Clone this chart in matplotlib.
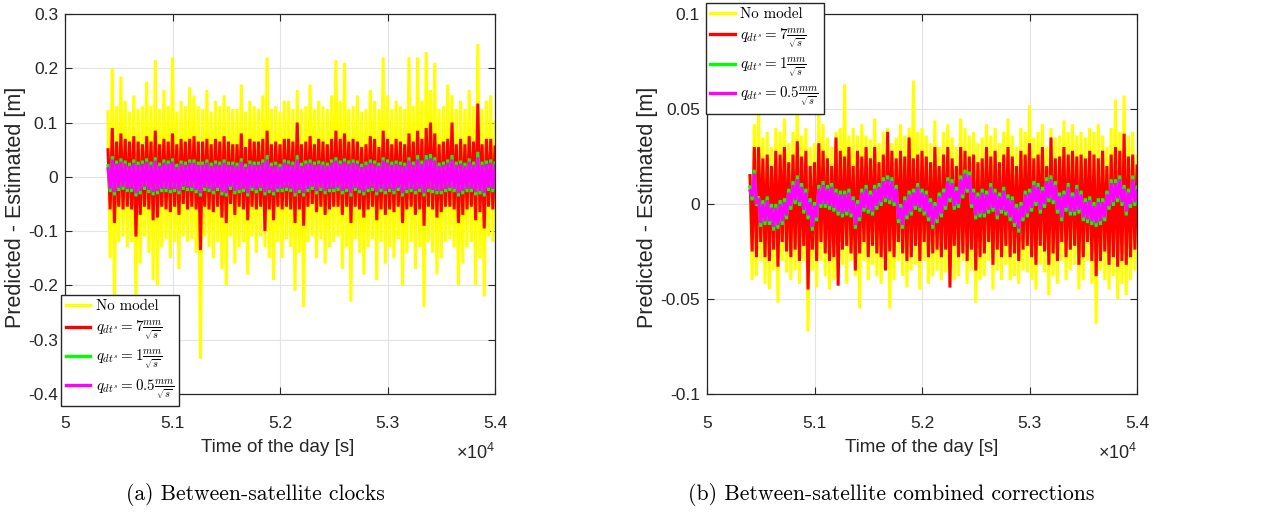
import numpy as np
import matplotlib
matplotlib.use("Agg")
import matplotlib.pyplot as plt
from matplotlib.lines import Line2D

# ---------------- data (values in mm) ----------------
x_ticks = [50000, 51000, 52000, 53000, 54000]
x_tick_labels = ["5", "5.1", "5.2", "5.3", "5.4"]
t_start, t_end = 50400, 54000

a_yticks = [-0.4, -0.3, -0.2, -0.1, 0.0, 0.1, 0.2, 0.3]
a_yticklabels = ["-0.4", "-0.3", "-0.2", "-0.1", "0", "0.1", "0.2", "0.3"]
b_yticks = [-0.1, -0.05, 0.0, 0.05, 0.1]
b_yticklabels = ["-0.1", "-0.05", "0", "0.05", "0.1"]

series_labels = ["No model",
                 r"$q_{dt^s}=7\frac{mm}{\sqrt{s}}$",
                 r"$q_{dt^s}=1\frac{mm}{\sqrt{s}}$",
                 r"$q_{dt^s}=0.5\frac{mm}{\sqrt{s}}$"]
series_colors = ["#ffff00", "#ff0000", "#00ff00", "#ff00ff"]

# panel (a): between-satellite clocks
a_nomodel = [
    120, -150, 200, -240, 130, -120, 185, -110, 140, -130,
    120, -120, 150, -230, 125, -160, 130, -110, 175, -140,
    130, -190, 215, -200, 125, -130, 160, -115, 130, -150,
    220, -120, 120, -170, 140, -110, 130, -120, 165, -115,
    150, -140, 130, -335, 125, -110, 160, -130, 120, -150,
    140, -120, 130, -170, 150, -200, 130, -110, 125, -160,
    125, -130, 170, -120, 120, -180, 140, -110, 130, -140,
    125, -110, 150, -130, 220, -150, 125, -190, 130, -120,
    120, -150, 140, -115, 140, -130, 125, -210, 160, -140,
    125, -240, 130, -120, 170, -110, 125, -150, 140, -115,
    130, -160, 125, -130, 150, -120, 215, -110, 140, -170,
    210, -130, 125, -230, 130, -115, 150, -140, 120, -180,
    125, -130, 160, -115, 140, -190, 125, -120, 220, -160,
    150, -130, 125, -150, 140, -115, 130, -200, 125, -140,
    220, -120, 130, -170, 220, -130, 140, -240, 230, -120,
    160, -140, 210, -180, 125, -150, 130, -120, 170, -115,
    150, -130, 125, -200, 140, -160, 125, -130, 160, -120,
    130, -200, 245, -150, 125, -220, 140, -110, 150, -120,
    100]
a_q7 = [
    50, -60, 90, -85, 65, -55, 80, -60, 70, -55,
    65, -60, 75, -110, 65, -70, 60, -55, 75, -60,
    65, -80, 85, -75, 60, -55, 70, -60, 65, -65,
    80, -55, 60, -70, 70, -50, 65, -60, 70, -55,
    75, -60, 65, -135, 65, -55, 70, -60, 60, -65,
    70, -55, 65, -75, 75, -85, 65, -50, 60, -70,
    60, -55, 80, -60, 55, -80, 70, -55, 65, -60,
    65, -55, 70, -100, 85, -60, 60, -80, 65, -55,
    60, -60, 70, -55, 70, -60, 65, -85, 100, -60,
    60, -90, 65, -55, 75, -50, 60, -65, 70, -55,
    65, -70, 60, -60, 70, -55, 85, -55, 70, -70,
    80, -55, 65, -85, 70, -55, 65, -60, 55, -75,
    60, -60, 75, -55, 70, -80, 55, -60, 85, -70,
    70, -60, 60, -65, 70, -55, 65, -85, 60, -60,
    80, -55, 65, -70, 85, -60, 70, -90, 90, -55,
    100, -60, 80, -75, 60, -65, 65, -55, 70, -55,
    100, -60, 60, -85, 70, -70, 60, -60, 75, -55,
    65, -80, 135, -65, 60, -95, 70, -55, 70, -60,
    55]
a_q1 = [
    21, -28, 38, -34, 30, -26, 34, -24, 30, -28,
    26, -28, 32, -36, 28, -32, 30, -24, 34, -30,
    28, -34, 36, -32, 26, -28, 32, -28, 30, -30,
    34, -28, 24, -32, 30, -24, 28, -26, 32, -26,
    32, -30, 28, -36, 28, -26, 32, -28, 26, -32,
    30, -26, 28, -34, 32, -36, 28, -24, 28, -32,
    26, -30, 34, -28, 24, -36, 30, -26, 28, -30,
    28, -26, 32, -34, 40, -30, 26, -34, 28, -28,
    24, -28, 32, -26, 30, -28, 28, -36, 40, -30,
    26, -36, 30, -28, 32, -24, 28, -32, 30, -26,
    28, -32, 26, -28, 32, -28, 36, -26, 30, -32,
    34, -28, 30, -36, 32, -26, 30, -30, 24, -34,
    28, -28, 32, -26, 30, -34, 26, -28, 36, -32,
    32, -28, 28, -32, 30, -26, 28, -36, 26, -30,
    36, -28, 28, -32, 40, -28, 30, -36, 40, -28,
    42, -30, 36, -32, 26, -32, 28, -28, 32, -26,
    40, -28, 28, -36, 30, -32, 26, -28, 34, -28,
    28, -34, 46, -32, 28, -36, 30, -26, 32, -28,
    26]
a_q05 = [
    15, -22, 32, -28, 24, -20, 28, -18, 24, -22,
    20, -22, 26, -30, 22, -26, 24, -18, 28, -24,
    22, -28, 30, -26, 20, -22, 26, -22, 24, -24,
    28, -22, 18, -26, 24, -18, 22, -20, 26, -20,
    26, -24, 22, -30, 22, -20, 26, -22, 20, -26,
    24, -20, 22, -28, 26, -30, 22, -18, 22, -26,
    20, -24, 28, -22, 18, -30, 24, -20, 22, -24,
    22, -20, 26, -28, 32, -24, 20, -28, 22, -22,
    18, -22, 26, -20, 24, -22, 22, -30, 32, -24,
    20, -30, 24, -22, 26, -18, 22, -26, 24, -20,
    22, -26, 20, -22, 26, -22, 30, -20, 24, -26,
    28, -22, 24, -30, 26, -20, 24, -24, 18, -28,
    22, -22, 26, -20, 24, -28, 20, -22, 30, -26,
    26, -22, 22, -26, 24, -20, 22, -30, 20, -24,
    30, -22, 22, -26, 32, -22, 24, -30, 32, -22,
    34, -24, 30, -26, 20, -26, 22, -22, 26, -20,
    32, -22, 22, -30, 24, -26, 20, -22, 28, -22,
    22, -28, 36, -26, 22, -30, 24, -20, 26, -22,
    20]

# panel (b): between-satellite combined corrections
b_nomodel = [
    15, -40, 42, -38, 50, -30, 35, -42, 38, -45,
    30, -35, 40, -52, 38, -30, 45, -36, 32, -40,
    38, -35, 55, -42, 36, -30, 40, -67, 30, -35,
    32, -44, 50, -30, 42, -38, 35, -45, 30, -40,
    38, -35, 40, -32, 63, -42, 36, -30, 40, -38,
    36, -55, 42, -30, 36, -40, 34, -32, 45, -38,
    32, -42, 38, -30, 40, -55, 32, -40, 35, -30,
    42, -38, 36, -44, 40, -35, 65, -32, 38, -45,
    40, -30, 36, -42, 32, -38, 44, -35, 30, -40,
    38, -36, 42, -32, 35, -40, 30, -38, 45, -30,
    40, -42, 36, -35, 38, -52, 32, -40, 35, -38,
    42, -30, 36, -45, 40, -35, 32, -40, 38, -32,
    45, -40, 36, -38, 30, -42, 40, -35, 38, -36,
    52, -40, 35, -45, 38, -32, 42, -36, 30, -48,
    40, -38, 35, -42, 36, -30, 44, -40, 38, -35,
    42, -32, 36, -45, 38, -40, 35, -30, 40, -42,
    38, -63, 42, -35, 36, -40, 30, -45, 40, -38,
    55, -50, 38, -42, 57, -48, 36, -40, 38, -35,
    25]
b_q7 = [
    15, -25, 30, -28, 30, -20, 24, -28, 26, -30,
    20, -24, 28, -33, 26, -20, 30, -25, 22, -28,
    26, -24, 33, -30, 25, -22, 28, -45, 20, -24,
    22, -30, 32, -20, 28, -26, 24, -30, 20, -28,
    35, -43, 28, -24, 25, -22, 30, -26, 20, -35,
    28, -26, 25, -20, 30, -28, 24, -22, 30, -26,
    22, -28, 26, -35, 38, -25, 28, -28, 24, -20,
    28, -26, 25, -30, 35, -28, 24, -22, 26, -30,
    28, -20, 25, -28, 22, -26, 30, -24, 20, -28,
    26, -24, 30, -44, 24, -22, 20, -28, 30, -26,
    28, -30, 25, -24, 26, -35, 22, -28, 24, -26,
    30, -20, 25, -32, 28, -24, 22, -28, 26, -22,
    30, -28, 25, -26, 20, -30, 28, -24, 26, -22,
    32, -28, 24, -32, 26, -22, 30, -25, 20, -32,
    35, -26, 24, -30, 25, -20, 30, -28, 26, -24,
    28, -22, 25, -32, 26, -28, 24, -20, 28, -30,
    26, -38, 24, -30, 28, -25, 20, -32, 26, -28,
    30, -33, 28, -30, 37, -32, 25, -28, 26, -24,
    20]
b_q1 = [
    9, 2, 18, -1, 4, -12, 2, -11, 4, -11,
    0, -14, 0, -13, 2, -11, 3, -8, 8, -3,
    12, 0, 15, -1, 11, -5, 8, -8, 3, -14,
    1, -9, 10, -2, 12, -2, 10, -3, 11, -4,
    8, -6, 7, -7, 7, -6, 8, -7, 4, -13,
    2, -9, 8, -4, 10, -5, 7, -6, 10, -3,
    11, -1, 14, 1, 15, 0, 14, -1, 10, -10,
    0, -13, 4, -8, 7, -6, 8, -3, 11, -4,
    8, -6, 7, -9, 3, -13, 1, -10, 6, -7,
    8, -3, 14, 1, 13, -3, 9, -2, 15, 3,
    18, 6, 17, -2, 8, -8, 6, -7, 8, -7,
    7, -5, 11, -4, 8, -8, 6, -5, 9, -6,
    5, -9, 4, -12, 0, -15, 1, -9, 7, -7,
    8, -4, 12, -1, 11, -5, 9, -2, 14, 1,
    15, 0, 12, -5, 6, -9, 7, -4, 11, -6,
    6, -6, 10, -5, 7, -9, 3, -10, 4, -11,
    1, -12, 3, -11, 3, -9, 7, -3, 13, -1,
    13, 1, 15, -1, 10, -6, 8, -2, 15, -1,
    9]
b_q05 = [
    7, 4, 16, 1, 2, -10, 0, -9, 2, -9,
    -2, -12, -2, -11, 0, -9, 1, -6, 6, -1,
    10, 2, 13, 1, 9, -3, 6, -6, 1, -12,
    -1, -7, 8, 0, 10, 0, 8, -1, 9, -2,
    6, -4, 5, -5, 5, -4, 6, -5, 2, -11,
    0, -7, 6, -2, 8, -3, 5, -4, 8, -1,
    9, 1, 12, 3, 13, 2, 12, 1, 8, -8,
    -2, -11, 2, -6, 5, -4, 6, -1, 9, -2,
    6, -4, 5, -7, 1, -11, -1, -8, 4, -5,
    6, -1, 12, 3, 11, -1, 7, 0, 13, 5,
    16, 8, 15, 0, 6, -6, 4, -5, 6, -5,
    5, -3, 9, -2, 6, -6, 4, -3, 7, -4,
    3, -7, 2, -10, -2, -13, -1, -7, 5, -5,
    6, -2, 10, 1, 9, -3, 7, 0, 12, 3,
    13, 2, 10, -3, 4, -7, 5, -2, 9, -4,
    4, -4, 8, -3, 5, -7, 1, -8, 2, -9,
    -1, -10, 1, -9, 1, -7, 5, -1, 11, 1,
    11, 3, 13, 1, 8, -4, 6, 0, 13, 1,
    7]

# ---------------- figure ----------------
plt.rcParams["font.family"] = ["Liberation Sans", "DejaVu Sans"]
plt.rcParams["mathtext.fontset"] = "cm"
plt.rcParams["axes.unicode_minus"] = False

W, H = 1266, 514
fig = plt.figure(figsize=(W / 100, H / 100), dpi=100)
DARK = "#262626"


def fx(px):
    return px / W


def fy(py):
    return 1 - py / H


def make_panel(left_px, series, yticks, yticklabels, ylim):
    ax = fig.add_axes([fx(left_px), fy(394), 430 / W, 380 / H])
    for vals, col in zip(series, series_colors):
        t = np.linspace(t_start, t_end, len(vals))
        ax.plot(t, np.asarray(vals) / 1000.0, color=col, lw=2.2,
                solid_joinstyle="miter")
    ax.set_xlim(50000, 54000)
    ax.set_ylim(*ylim)
    ax.set_xticks(x_ticks)
    ax.set_xticklabels(x_tick_labels)
    ax.set_yticks(yticks)
    ax.set_yticklabels(yticklabels)
    ax.tick_params(direction="in", top=True, right=True, length=5, width=0.8,
                   colors=DARK, labelsize=12.5)
    ax.tick_params(axis="x", pad=16)
    ax.tick_params(axis="y", pad=5)
    ax.grid(True, color="#e3e3e3", lw=0.8)
    ax.set_axisbelow(True)
    for s in ax.spines.values():
        s.set_color(DARK)
        s.set_linewidth(0.9)
    return ax


ax_a = make_panel(65, [a_nomodel, a_q7, a_q1, a_q05], a_yticks, a_yticklabels, (-0.4, 0.3))
ax_b = make_panel(707, [b_nomodel, b_q7, b_q1, b_q05], b_yticks, b_yticklabels, (-0.1, 0.1))

handles = [Line2D([], [], color=c, lw=2.4) for c in series_colors]
leg_kw = dict(prop={"family": "cmr10", "size": 10.8}, frameon=True, fancybox=False,
              framealpha=1, edgecolor=DARK, borderaxespad=0, handlelength=1.65,
              handletextpad=0.35, labelspacing=0.3, borderpad=0.3,
              bbox_transform=fig.transFigure)
lg_a = ax_a.legend(handles, series_labels, loc="lower left",
                   bbox_to_anchor=(fx(61), fy(406)), **leg_kw)
lg_b = ax_b.legend(handles, series_labels, loc="upper left",
                   bbox_to_anchor=(fx(706), fy(3)), **leg_kw)
for lg in (lg_a, lg_b):
    lg.get_frame().set_linewidth(1.0)

# axis labels
for cx_label, cx_ylab, right_px in ((278, 16, 495), (922, 647, 1137)):
    fig.text(fx(cx_label), fy(448), "Time of the day [s]", ha="center", va="center",
             fontsize=13.5, color=DARK)
    fig.text(fx(cx_ylab), fy(207), "Predicted - Estimated [m]", ha="center", va="center",
             rotation=90, fontsize=15.5, color=DARK)
    fig.text(fx(right_px), fy(453), r"$\mathregular{\times10^{4}}$", ha="right", va="center",
             fontsize=13, color=DARK)

# captions
fig.text(fx(255), fy(495), "(a) Between-satellite clocks", ha="center", va="center",
         family="cmr10", fontsize=15.5)
fig.text(fx(891), fy(495), "(b) Between-satellite combined corrections", ha="center",
         va="center", family="cmr10", fontsize=15.7)

fig.savefig("out.png", dpi=100)
